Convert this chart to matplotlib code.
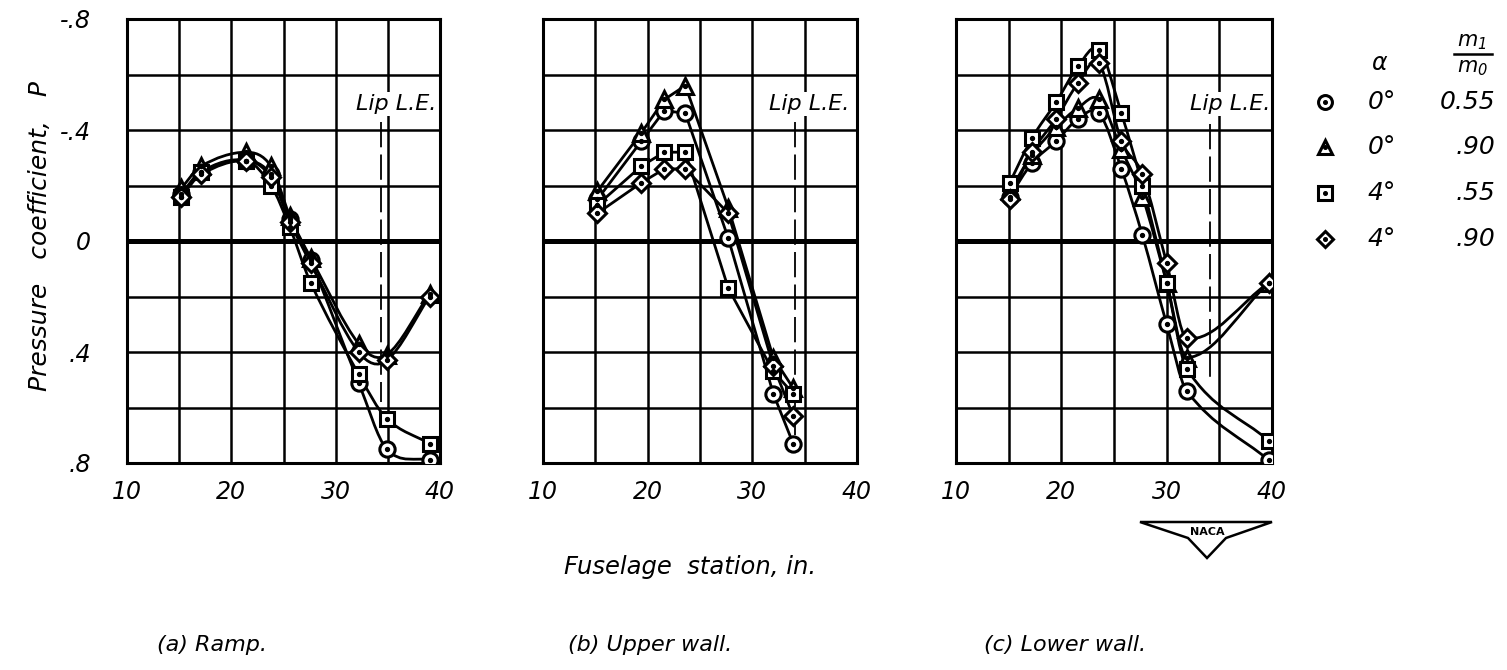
import numpy as np
import matplotlib
matplotlib.use("Agg")
import matplotlib.pyplot as plt
from matplotlib.path import Path
from matplotlib.patches import PathPatch, Polygon
from matplotlib.lines import Line2D

plt.rcParams['font.family'] = ['DejaVu Sans']
plt.rcParams['font.style'] = 'italic'

W, H = 1507, 670

# ---- data ----------------------------------------------------------------
# (a) Ramp
a_station = [15.2, 17.1, 21.4, 23.8, 25.6, 27.6, 32.2, 34.9, 39.0]
a_circle = [-0.17, -0.25, -0.29, -0.24, -0.08, 0.07, 0.51, 0.75, 0.79]
a_triangle = [-0.19, -0.27, -0.32, -0.27, -0.09, 0.06, 0.37, 0.41, 0.19]
a_square = [-0.16, -0.25, -0.29, -0.20, -0.05, 0.15, 0.48, 0.64, 0.73]
a_diamond = [-0.16, -0.24, -0.29, -0.23, -0.07, 0.08, 0.40, 0.43, 0.20]

# (b) Upper wall
b_station = [15.2, 19.4, 21.6, 23.6, 27.7, 32.0, 33.9]
b_circle = [-0.15, -0.36, -0.47, -0.46, -0.01, 0.55, 0.73]
b_triangle = [-0.18, -0.39, -0.51, -0.56, -0.12, 0.42, 0.53]
b_square = [-0.13, -0.27, -0.32, -0.32, 0.17, 0.47, 0.55]
b_diamond = [-0.10, -0.21, -0.26, -0.26, -0.10, 0.45, 0.63]

# (c) Lower wall
c_station = [15.1, 17.2, 19.5, 21.6, 23.6, 25.7, 27.7, 30.0, 31.9, 39.7]
c_circle = [-0.16, -0.28, -0.36, -0.44, -0.46, -0.26, -0.02, 0.30, 0.54, 0.79]
c_triangle = [-0.18, -0.31, -0.41, -0.48, -0.51, -0.33, -0.16, 0.15, 0.42, 0.15]
c_square = [-0.21, -0.37, -0.50, -0.63, -0.69, -0.46, -0.20, 0.15, 0.46, 0.72]
c_diamond = [-0.15, -0.32, -0.44, -0.57, -0.64, -0.36, -0.24, 0.08, 0.35, 0.15]

# lip leading edge station and extent of its marker line
lip_station = [34.3, 34.1, 34.1]
lip_top = [-0.43, -0.43, -0.42]
lip_bottom = [0.58, 0.70, 0.50]

panel_titles = ["(a) Ramp.", "(b) Upper wall.", "(c) Lower wall."]
legend_alpha = ["0°", "0°", "4°", "4°"]
legend_ratio = ["0.55", ".90", ".55", ".90"]
marker_kinds = ['o', '^', 's', 'D']
marker_sizes = [11, 11, 10.5, 9.5]

x_ticks = [10, 15, 20, 25, 30, 35, 40]
x_ticklabels = ['10', '', '20', '', '30', '', '40']
y_ticks = [-0.8, -0.6, -0.4, -0.2, 0, 0.2, 0.4, 0.6, 0.8]
y_ticklabels = ['-.8', '', '-.4', '', '0', '', '.4', '', '.8']


def fx(x):
    return x / W


def fy(y):
    return 1 - y / H


def faired(x, y):
    # cubic Hermite fairing through the read points, drawn as Bezier path
    x = np.asarray(x, float)
    y = np.asarray(y, float)
    m = np.empty(len(x))
    m[0] = (y[1] - y[0]) / (x[1] - x[0])
    m[-1] = (y[-1] - y[-2]) / (x[-1] - x[-2])
    m[1:-1] = (y[2:] - y[:-2]) / (x[2:] - x[:-2])
    verts = [(x[0], y[0])]
    codes = [Path.MOVETO]
    for i in range(len(x) - 1):
        h = x[i + 1] - x[i]
        verts += [(x[i] + h / 3, y[i] + m[i] * h / 3),
                  (x[i + 1] - h / 3, y[i + 1] - m[i + 1] * h / 3),
                  (x[i + 1], y[i + 1])]
        codes += [Path.CURVE4] * 3
    return Path(verts, codes)


fig = plt.figure(figsize=(W / 100, H / 100), dpi=100)

panels = [
    (a_station, [a_circle, a_triangle, a_square, a_diamond], True),
    (b_station, [b_circle, b_triangle, b_square, b_diamond], False),
    (c_station, [c_circle, c_triangle, c_square, c_diamond], True),
]
lefts = [127, 543, 956]
widths = [313, 314, 316]
lip_text_right = [39.7, 39.3, 39.8]
title_x = [212, 650, 1065]

for k, (st, series, smooth) in enumerate(panels):
    ax = fig.add_axes([fx(lefts[k]), fy(463), widths[k] / W, 444 / H])
    ax.set_xlim(10, 40)
    ax.set_ylim(0.8, -0.8)
    ax.set_xticks(x_ticks)
    ax.set_xticklabels(x_ticklabels)
    ax.set_yticks(y_ticks)
    if k == 0:
        ax.set_yticklabels(y_ticklabels)
    else:
        ax.set_yticklabels([])
    ax.tick_params(length=0, labelsize=17, pad=12)
    ax.tick_params(axis='y', pad=26)
    ax.grid(True, color='k', lw=1.8)
    ax.set_axisbelow(True)
    for s in ax.spines.values():
        s.set_linewidth(2.2)
    ax.axhline(0, color='k', lw=3.6, zorder=1.5)

    for j, yv in enumerate(series):
        if smooth:
            ax.add_patch(PathPatch(faired(st, yv), fill=False, ec='k',
                                   lw=2.0, zorder=3))
        else:
            ax.plot(st, yv, color='k', lw=2.0, zorder=3)
        ax.plot(st, yv, ls='none', marker=marker_kinds[j],
                ms=marker_sizes[j], mfc='white', mec='k', mew=2.2, zorder=4)
        ax.plot(st, yv, ls='none', marker='o', ms=2.8, color='k', zorder=5)

    ax.plot([lip_station[k]] * 2, [lip_top[k], lip_bottom[k]], color='k',
            lw=1.3, ls=(0, (14, 4)), zorder=2)
    ax.text(lip_text_right[k], -0.495, "Lip L.E.", ha='right', va='center',
            fontsize=16, zorder=2.5,
            bbox=dict(fc='white', ec='none', pad=1.5))

    fig.text(fx(title_x[k]), fy(645), panel_titles[k], ha='center',
             va='center', fontsize=16)

fig.text(fx(40), fy(236), "Pressure   coefficient,   P", rotation=90,
         ha='center', va='center', fontsize=18)
fig.text(fx(690), fy(567), "Fuselage  station, in.", ha='center',
         va='center', fontsize=17.5)

# legend
rows_y = [102, 147, 193, 239]
fig.text(fx(1380), fy(63), r"$\alpha$", ha='center', va='center', fontsize=17)
fig.text(fx(1472), fy(42), r"$m_1$", ha='center', va='center', fontsize=15)
fig.add_artist(Line2D([fx(1454), fx(1492)], [fy(54), fy(54)],
                      transform=fig.transFigure, color='k', lw=1.8))
fig.text(fx(1472), fy(68), r"$m_0$", ha='center', va='center', fontsize=15)
for j in range(4):
    fig.add_artist(Line2D([fx(1325)], [fy(rows_y[j])],
                          transform=fig.transFigure, ls='none',
                          marker=marker_kinds[j], ms=marker_sizes[j] - 1,
                          mfc='white', mec='k', mew=2.2))
    fig.add_artist(Line2D([fx(1325)], [fy(rows_y[j])],
                          transform=fig.transFigure, ls='none', marker='o',
                          ms=2.6, color='k'))
    fig.text(fx(1382), fy(rows_y[j]), legend_alpha[j], ha='center',
             va='center', fontsize=18)
    fig.text(fx(1495), fy(rows_y[j]), legend_ratio[j], ha='right',
             va='center', fontsize=18)

# NACA badge
badge = [(1140, 522), (1272, 522), (1226, 538), (1207, 558), (1188, 538)]
fig.add_artist(Polygon([(fx(a), fy(b)) for a, b in badge], closed=True,
                       transform=fig.transFigure, fc='white', ec='k', lw=1.8))
fig.text(fx(1207), fy(532), "NACA", ha='center', va='center', fontsize=8,
         style='normal', weight='bold')

fig.savefig("out.png", dpi=100)
